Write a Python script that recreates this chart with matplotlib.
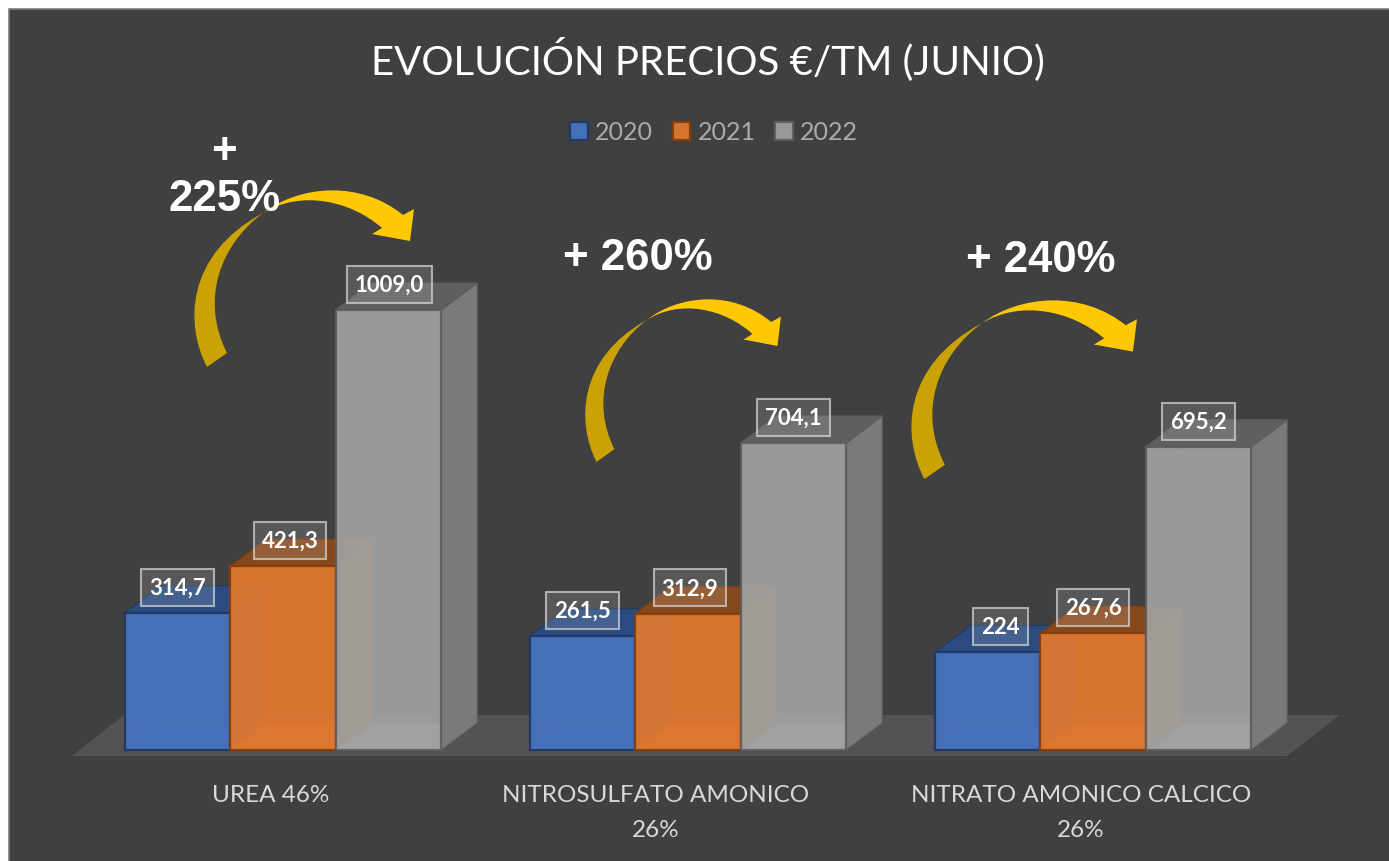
import numpy as np
import matplotlib
matplotlib.use("Agg")
import matplotlib.pyplot as plt
from matplotlib.path import Path
from matplotlib.patches import PathPatch, Polygon, Rectangle

W = 1389
H = 862

years = ["2020", "2021", "2022"]
urea = [314.7, 421.3, 1009.0]
nitrosulfato = [261.5, 312.9, 704.1]
nitrato = [224.0, 267.6, 695.2]
series_by_group = [urea, nitrosulfato, nitrato]

value_labels = [["314,7", "421,3", "1009,0"],
                ["261,5", "312,9", "704,1"],
                ["224", "267,6", "695,2"]]
cat_labels = ["UREA 46%", "NITROSULFATO AMONICO\n26%", "NITRATO AMONICO CALCICO\n26%"]
cat_px = [271, 656, 1081]
pct_labels = ["+\n225%", "+ 260%", "+ 240%"]

front = ["#4572BC", "#E07830", "#A4A4A4"]
side = ["#2F5597", "#9A5524", "#7A7A7A"]
top = ["#2A4A80", "#85481C", "#5F5F5F"]
edge = ["#1F3864", "#843C0C", "#5C5C5C"]
bottom = ["#3C5F9E", "#B8652B", "#8E8E8E"]
alphas = [0.97, 0.94, 0.9]

# scale: pixels per unit
px_per_val = 0.4361
px_per_group = 405.0
base_y = 751.0
group0_x = 283.0
bar_w = 105.5 / px_per_group
depth_x = 36 / px_per_group
depth_y = 27 / px_per_val

fig = plt.figure(figsize=(W / 100, H / 100), dpi=100, facecolor="white")

# pixel layer: background, floor, title, arrows
pix = fig.add_axes([0, 0, 1, 1], zorder=0)
pix.set_xlim(0, W)
pix.set_ylim(H, 0)
pix.axis("off")
pix.add_patch(Rectangle((9, 10), W, H, fc="#404040", ec="#7C7C7C", lw=1.2))
pix.add_patch(Polygon([(72, 757), (1287, 757), (1340, 716), (124, 716)], fc="#545252", ec="none"))

pix.text(708, 59.5, "EVOLUCIÓN PRECIOS €/TM (JUNIO)", color="white", fontsize=29,
         family="Lato", ha="center", va="center")


def arrow(x0, y0, x1, y1):
    # shape traced from first arrow, fitted to a bounding box
    sx = (x1 - x0) / (414 - 193)
    sy = (y1 - y0) / (367 - 190)
    low = np.array([(207, 367), (185, 325), (185, 255), (263, 213),
                    (220, 245), (200, 300), (227, 353), (207, 367)], float)
    low_codes = [Path.MOVETO] + [Path.CURVE4] * 6 + [Path.CLOSEPOLY]
    up = np.array([(263, 213), (300, 185), (360, 180), (403, 215), (414, 209), (410, 241),
                   (372, 234), (382, 228), (350, 200), (300, 190), (263, 213), (263, 213)], float)
    up_codes = [Path.MOVETO] + [Path.CURVE4] * 3 + [Path.LINETO] * 4 + [Path.CURVE4] * 3 + [Path.CLOSEPOLY]
    for pts, codes, col in [(low, low_codes, "#CBA203"), (up, up_codes, "#FFC805")]:
        xy = np.column_stack([x0 + (pts[:, 0] - 193) * sx, y0 + (pts[:, 1] - 190) * sy])
        pix.add_patch(PathPatch(Path(xy, codes), fc=col, ec="none"))


arrow(193, 191, 414, 368)
arrow(584, 300, 781, 463)
arrow(910, 301, 1137, 480)

pct_pos = [(224, 176), (638, 259), (1041, 261)]
for (px, py), s in zip(pct_pos, pct_labels):
    pix.text(px, py, s, color="white", fontsize=31.5, fontweight="bold", family="Liberation Sans",
             ha="center", va="center", linespacing=1.2)

for px, s in zip(cat_px, cat_labels):
    pix.text(px, 785, s, color="#D9D9D9", fontsize=17.5, family="Lato", ha="center", va="top", linespacing=1.8)

# bars on real value scale
ax = fig.add_axes([0, 0, 1, 1], zorder=1)
ax.patch.set_alpha(0)
ax.set_xlim((0 - group0_x) / px_per_group, (W - group0_x) / px_per_group)
ax.set_ylim((base_y - H) / px_per_val, base_y / px_per_val)
ax.axis("off")

x = np.arange(len(series_by_group))
label_dx = [[0, 7, 1], [0, 2, 0], [13, 0, 0]]

for s in range(3):
    vals = [g[s] for g in series_by_group]
    xc = x + (s - 1) * bar_w
    z = 3 + s * 3
    for xi, v in zip(xc, vals):
        l = xi - bar_w / 2
        r = xi + bar_w / 2
        ax.fill([l, r, r + depth_x, l + depth_x], [0, 0, depth_y, depth_y], fc=bottom[s], ec=edge[s], lw=0.5, zorder=z)
        ax.add_patch(Rectangle((l + depth_x, depth_y), bar_w, v, fc="none", ec=edge[s], lw=0.6, alpha=0.5, zorder=z))
        ax.fill([r, r + depth_x, r + depth_x, r], [0, depth_y, v + depth_y, v], fc=side[s], ec=edge[s], lw=0.8, zorder=z)
        ax.fill([l, r, r + depth_x, l + depth_x], [v, v, v + depth_y, v + depth_y], fc=top[s], ec=edge[s], lw=0.8, zorder=z)
    ax.bar(xc, vals, bar_w, color=front[s], alpha=alphas[s], edgecolor=edge[s], linewidth=1.6,
           zorder=z + 1, label=years[s])

for g, vals in enumerate(series_by_group):
    for s, v in enumerate(vals):
        xi = x[g] + (s - 1) * bar_w
        ax.annotate(value_labels[g][s], (xi, v), xytext=(label_dx[g][s] * 0.72, 18.5), textcoords="offset points",
                    color="white", fontsize=16, fontweight="bold", family="Lato", ha="center", va="center",
                    zorder=30,
                    bbox=dict(boxstyle="square,pad=0.36", fc=(1, 1, 1, 0.13), ec=(0.85, 0.85, 0.85, 0.7), lw=1.5))

leg = ax.legend(loc="center", bbox_to_anchor=(714 / W, 1 - 133 / H), ncol=3, frameon=False,
                handlelength=0.7, handleheight=0.7, handletextpad=0.3, columnspacing=0.78, borderpad=0,
                prop={"family": "Lato", "size": 18})
for t in leg.get_texts():
    t.set_color("#ABABAB")

fig.savefig("out.png", dpi=100, facecolor="white")
